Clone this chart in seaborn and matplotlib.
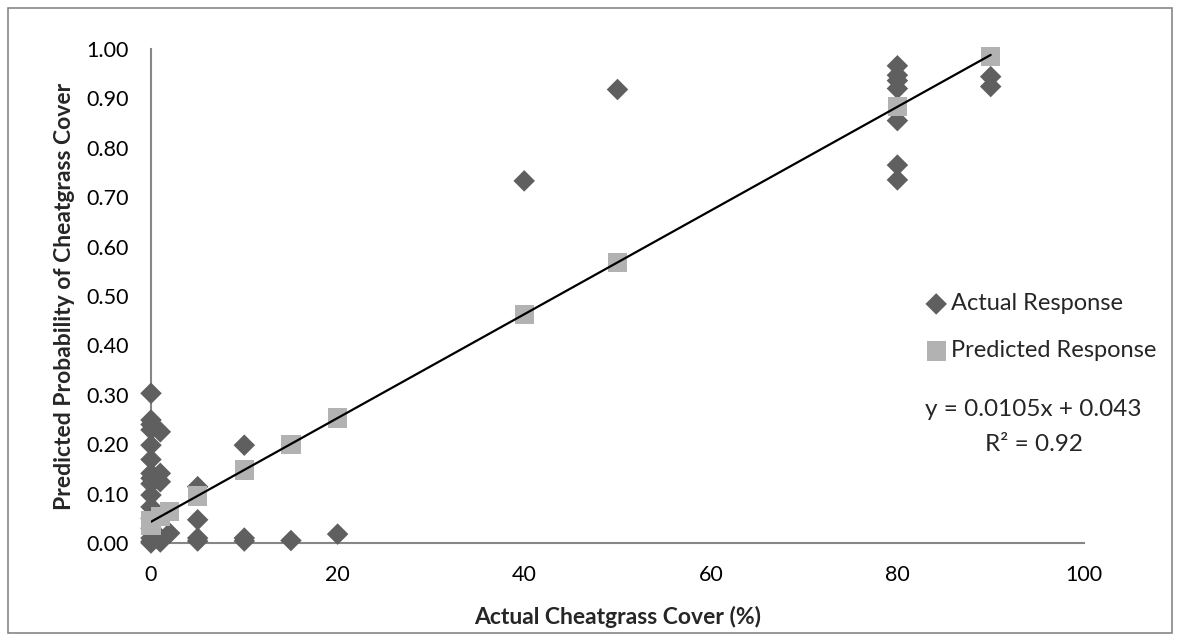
import numpy as np
import pandas as pd
import matplotlib
matplotlib.use("Agg")
import matplotlib.pyplot as plt
import matplotlib.patches as patches
import seaborn as sns

# ---- data ----
actual_x = [0]*16 + [1]*5 + [2] + [5]*4 + [10]*3 + [15] + [20] + [40] + [50] + [80]*7 + [90]*2
actual_y = [0.303, 0.249, 0.240, 0.229, 0.198, 0.169, 0.141, 0.131, 0.120, 0.097, 0.073, 0.050, 0.030, 0.010, 0.003, 0.000,
            0.225, 0.141, 0.124, 0.010, 0.002,
            0.020,
            0.114, 0.047, 0.010, 0.004,
            0.198, 0.010, 0.004,
            0.005,
            0.018,
            0.733,
            0.918,
            0.966, 0.947, 0.936, 0.920, 0.855, 0.765, 0.735,
            0.944, 0.924]
pred_x = [0, 0, 1, 2, 5, 10, 15, 20, 40, 50, 80, 90]
pred_y = [0.035, 0.045, 0.054, 0.064, 0.095, 0.148, 0.200, 0.253, 0.463, 0.568, 0.883, 0.985]
slope, intercept = 0.0105, 0.043
trend_x = [0, 90]
x_ticks = [0, 20, 40, 60, 80, 100]
y_ticks = [0.0, 0.1, 0.2, 0.3, 0.4, 0.5, 0.6, 0.7, 0.8, 0.9, 1.0]

sns.set_style("white")
plt.rcParams['font.family'] = ['Lato', 'DejaVu Sans']

fig = plt.figure(figsize=(11.8, 6.39), dpi=100)
fig.patches.append(patches.Rectangle((8/1180, 6/639), 1164/1180, 625/639, transform=fig.transFigure,
                                     fill=False, edgecolor='#868686', linewidth=1.2))
ax = fig.add_axes([151/1180, 96/639, 933/1180, 494/639])

df_a = pd.DataFrame({'x': actual_x, 'y': actual_y})
df_p = pd.DataFrame({'x': pred_x, 'y': pred_y})
sns.scatterplot(data=df_a, x='x', y='y', marker='D', s=120, color='#5f5f5f', edgecolor='none',
                ax=ax, label='Actual Response', clip_on=False, zorder=3)
sns.scatterplot(data=df_p, x='x', y='y', marker='s', s=195, color='#b2b2b2', edgecolor='none',
                ax=ax, label='Predicted Response', clip_on=False, zorder=4)
tx = np.array(trend_x, dtype=float)
sns.lineplot(x=tx, y=slope*tx + intercept, color='black', linewidth=1.6, ax=ax, zorder=5)

ax.set_xlim(0, 100)
ax.set_ylim(0, 1)
ax.set_xticks(x_ticks)
ax.set_yticks(y_ticks)
ax.set_yticklabels([f"{v:.2f}" for v in y_ticks])
ax.tick_params(axis='both', direction='out', length=6, width=1.3, color='#868686',
               labelsize=15.5, labelcolor='black')
ax.tick_params(axis='x', pad=10)
ax.tick_params(axis='y', pad=10)
for s in ['top', 'right']:
    ax.spines[s].set_visible(False)
for s in ['left', 'bottom']:
    ax.spines[s].set_color('#868686')
    ax.spines[s].set_linewidth(1.5)
ax.grid(False)

ax.set_xlabel('Actual Cheatgrass Cover (%)', fontsize=16.5, fontweight='bold')
ax.set_ylabel('Predicted Probability of Cheatgrass Cover', fontsize=16.5, fontweight='bold')
ax.xaxis.set_label_coords(0.5, -0.15)
ax.xaxis.label.set_va('center')
ax.yaxis.set_label_coords(-0.093, 0.5)
ax.yaxis.label.set_va('center')

handles, labels = ax.get_legend_handles_labels()
leg = ax.legend(handles[:2], labels[:2], loc='center left', bbox_to_anchor=(0.834, 0.437), frameon=False,
                fontsize=17, handlelength=0.6, handletextpad=0.32, labelspacing=1.1,
                borderpad=0, borderaxespad=0)

ax.text(0.946, 0.270, 'y = 0.0105x + 0.043', transform=ax.transAxes, ha='center', va='center', fontsize=17.5)
ax.text(0.946, 0.200, 'R² = 0.92', transform=ax.transAxes, ha='center', va='center', fontsize=17.5)

fig.savefig('out.png', dpi=100)
